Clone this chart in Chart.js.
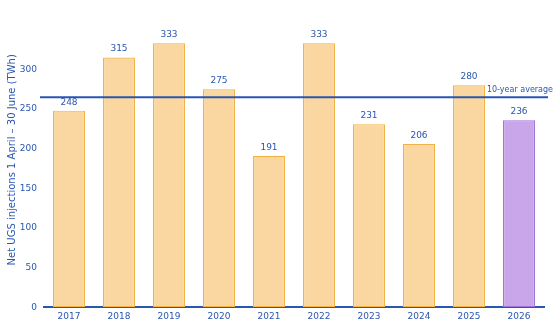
<!DOCTYPE html>
<html>
<head>
<meta charset="utf-8">
<script src="https://cdn.jsdelivr.net/npm/chart.js@4"></script>
<style>
  html, body { margin: 0; padding: 0; background: #fff; }
  #wrap { width: 560px; height: 326px; }
</style>
</head>
<body>
<div id="wrap"><canvas id="chart"></canvas></div>
<script>
var years = ['2017', '2018', '2019', '2020', '2021', '2022', '2023', '2024', '2025', '2026'];
var injections = [248, 315, 333, 275, 191, 333, 231, 206, 280, 236];
var average = 265;
var yTicks = [0, 50, 100, 150, 200, 250, 300];

var blue = '#2a56b0';
var fills = years.map(function (y) { return y === '2026' ? '#c9a6ea' : '#fad7a0'; });
var borders = years.map(function (y) { return y === '2026' ? '#9f74dc' : '#f3b247'; });

var extras = {
    id: 'extras',
    afterDatasetsDraw: function (chart) {
        var ctx = chart.ctx;
        var area = chart.chartArea;
        var ys = chart.scales.y;
        var meta = chart.getDatasetMeta(0);
        ctx.save();
        ctx.font = '9px "DejaVu Sans"';
        ctx.fillStyle = blue;
        ctx.textAlign = 'center';
        ctx.textBaseline = 'bottom';
        meta.data.forEach(function (bar, i) {
            ctx.fillText(injections[i], bar.x, bar.y - 4);
        });
        var ay = ys.getPixelForValue(average);
        ctx.strokeStyle = blue;
        ctx.lineWidth = 2;
        ctx.beginPath();
        ctx.moveTo(area.left - 4, ay);
        ctx.lineTo(area.right + 4, ay);
        ctx.stroke();
        ctx.font = '8px "DejaVu Sans"';
        ctx.textAlign = 'right';
        ctx.fillText('10-year average', 553, ay - 3);
        ctx.restore();
    }
};

new Chart(document.getElementById('chart'), {
    type: 'bar',
    data: {
        labels: years,
        datasets: [{
            data: injections,
            backgroundColor: fills,
            borderColor: borders,
            borderWidth: 1.2,
            borderSkipped: false,
            categoryPercentage: 1,
            barPercentage: 0.64
        }]
    },
    options: {
        responsive: true,
        maintainAspectRatio: false,
        animation: false,
        layout: { padding: { left: 6, right: 16, top: 0, bottom: 0 } },
        plugins: { legend: { display: false }, tooltip: { enabled: false } },
        scales: {
            x: {
                grid: { display: false, drawTicks: false },
                border: { color: blue, width: 2 },
                ticks: { color: blue, font: { family: 'DejaVu Sans', size: 9 }, padding: 4, maxRotation: 0 }
            },
            y: {
                min: 0,
                max: 372,
                afterBuildTicks: function (axis) {
                    axis.ticks = yTicks.map(function (v) { return { value: v }; });
                },
                afterFit: function (axis) { axis.width = 38; },
                grid: { display: false, drawTicks: false },
                border: { display: false },
                ticks: { color: blue, font: { family: 'DejaVu Sans', size: 9 }, padding: 7 },
                title: {
                    display: true,
                    text: 'Net UGS injections 1 April – 30 June (TWh)',
                    color: blue,
                    font: { family: 'DejaVu Sans', size: 10 },
                    padding: { top: 0, bottom: 0 }
                }
            }
        }
    },
    plugins: [extras]
});
</script>
</body>
</html>
